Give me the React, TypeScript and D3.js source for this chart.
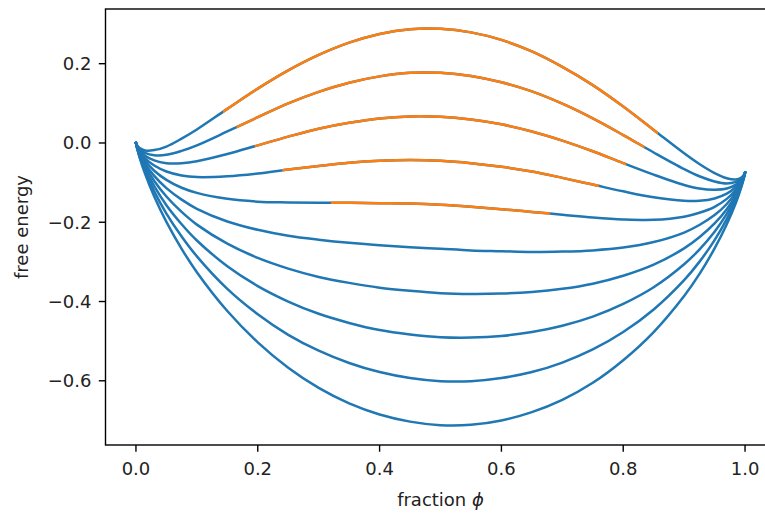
import React, { useEffect, useRef } from "react";
import * as d3 from "d3";

// fraction phi (x positions shared by every curve)
const phi = [
  0, 0.002, 0.006, 0.015, 0.03, 0.05, 0.075, 0.1, 0.15, 0.2, 0.25, 0.3, 0.35, 0.4, 0.45, 0.5,
  0.55, 0.6, 0.65, 0.7, 0.75, 0.8, 0.85, 0.9, 0.925, 0.95, 0.97, 0.985, 0.994, 0.998, 1,
];

// free energy, one array per curve, bottom (chi = 0) to top (chi = 4)
const energyChi0 = [
  0, -0.014, -0.037, -0.078, -0.135, -0.199, -0.267, -0.326, -0.424, -0.503, -0.567, -0.618, -0.657, -0.685, -0.703, -0.712,
  -0.711, -0.7, -0.679, -0.648, -0.605, -0.548, -0.477, -0.386, -0.331, -0.266, -0.205, -0.151, -0.111, -0.089, -0.075,
];
const energyChi1 = [
  0, -0.014, -0.034, -0.071, -0.122, -0.178, -0.236, -0.286, -0.368, -0.432, -0.484, -0.524, -0.555, -0.578, -0.593, -0.601,
  -0.601, -0.593, -0.578, -0.554, -0.521, -0.477, -0.42, -0.346, -0.3, -0.245, -0.192, -0.144, -0.108, -0.088, -0.075,
];
const energyChi2 = [
  0, -0.013, -0.031, -0.065, -0.109, -0.157, -0.205, -0.246, -0.311, -0.361, -0.4, -0.431, -0.454, -0.472, -0.483, -0.49,
  -0.491, -0.487, -0.477, -0.461, -0.438, -0.406, -0.364, -0.306, -0.269, -0.224, -0.179, -0.138, -0.105, -0.087, -0.075,
];
const energyChi3 = [
  0, -0.012, -0.029, -0.058, -0.096, -0.135, -0.174, -0.206, -0.254, -0.29, -0.317, -0.338, -0.353, -0.365, -0.373, -0.379,
  -0.381, -0.38, -0.376, -0.368, -0.355, -0.335, -0.307, -0.266, -0.238, -0.203, -0.167, -0.131, -0.103, -0.086, -0.075,
];
const energyChi4 = [
  0, -0.011, -0.026, -0.052, -0.083, -0.114, -0.143, -0.166, -0.198, -0.219, -0.234, -0.244, -0.252, -0.258, -0.263, -0.267,
  -0.271, -0.273, -0.275, -0.274, -0.271, -0.264, -0.25, -0.226, -0.207, -0.182, -0.154, -0.124, -0.1, -0.086, -0.075,
];
const energyChi5 = [
  0, -0.01, -0.023, -0.045, -0.07, -0.093, -0.113, -0.126, -0.141, -0.148, -0.15, -0.151, -0.151, -0.152, -0.153, -0.156,
  -0.161, -0.167, -0.174, -0.181, -0.188, -0.193, -0.194, -0.186, -0.176, -0.161, -0.141, -0.118, -0.098, -0.085, -0.075,
];
const energyChi6 = [
  0, -0.009, -0.021, -0.039, -0.057, -0.072, -0.082, -0.086, -0.084, -0.077, -0.067, -0.058, -0.05, -0.045, -0.043, -0.045,
  -0.051, -0.06, -0.072, -0.088, -0.105, -0.122, -0.137, -0.146, -0.146, -0.14, -0.128, -0.111, -0.095, -0.084, -0.075,
];
const energyChi7 = [
  0, -0.008, -0.018, -0.032, -0.044, -0.051, -0.051, -0.046, -0.028, -0.006, 0.016, 0.036, 0.051, 0.062, 0.067, 0.066,
  0.059, 0.047, 0.029, 0.006, -0.021, -0.051, -0.08, -0.106, -0.115, -0.118, -0.115, -0.105, -0.092, -0.083, -0.075,
];
const energyChi8 = [
  0, -0.007, -0.015, -0.025, -0.031, -0.03, -0.02, -0.006, 0.029, 0.065, 0.1, 0.129, 0.152, 0.168, 0.177, 0.177,
  0.169, 0.153, 0.13, 0.099, 0.062, 0.02, -0.024, -0.066, -0.084, -0.097, -0.102, -0.098, -0.09, -0.082, -0.075,
];
const energyChi9 = [
  0, -0.006, -0.013, -0.019, -0.018, -0.009, 0.011, 0.034, 0.086, 0.137, 0.183, 0.222, 0.253, 0.275, 0.287, 0.288,
  0.279, 0.26, 0.231, 0.192, 0.146, 0.092, 0.033, -0.026, -0.053, -0.076, -0.089, -0.092, -0.087, -0.081, -0.075,
];

const curves = [
  energyChi0, energyChi1, energyChi2, energyChi3, energyChi4,
  energyChi5, energyChi6, energyChi7, energyChi8, energyChi9,
];

// unstable (orange) part of the upper curves
const spinodalCurve = [5, 6, 7, 8, 9];
const spinodalLeft = [0.32, 0.24, 0.195, 0.165, 0.143];
const spinodalRight = [0.68, 0.76, 0.805, 0.835, 0.857];

const xTicks = [0, 0.2, 0.4, 0.6, 0.8, 1.0];
const xTickLabels = ["0.0", "0.2", "0.4", "0.6", "0.8", "1.0"];
const yTicks = [-0.6, -0.4, -0.2, 0, 0.2];
const yTickLabels = ["\u22120.6", "\u22120.4", "\u22120.2", "0.0", "0.2"];

const WIDTH = 765;
const HEIGHT = 518;
const FONT = "'DejaVu Sans', sans-serif";

const App = () => {
  const svgRef = useRef<SVGSVGElement>(null);

  useEffect(() => {
    const svg = d3.select(svgRef.current);
    svg.selectAll("*").remove();

    // axes box (right edge lies outside the picture, as in the original)
    const left = 105.5;
    const right = 775.5;
    const top = 9;
    const bottom = 445;

    const [xLo, xHi] = d3.extent(phi) as [number, number];
    const xPad = (xHi - xLo) * 0.05;
    const x = d3.scaleLinear().domain([xLo - xPad, xHi + xPad]).range([left, right]);

    const [yLo, yHi] = d3.extent(curves.flat()) as [number, number];
    const yPad = (yHi - yLo) * 0.05;
    const y = d3.scaleLinear().domain([yLo - yPad, yHi + yPad]).range([bottom, top]);

    const line = d3
      .line<number>()
      .x((_, i) => x(phi[i]))
      .y((d) => y(d))
      .curve(d3.curveCatmullRom.alpha(0.5));

    const defs = svg.append("defs");
    const plot = svg.append("g");

    curves.forEach((c, k) => {
      plot
        .append("path")
        .attr("d", line(c))
        .attr("fill", "none")
        .attr("stroke", "#1f77b4")
        .attr("stroke-width", 2.5)
        .attr("stroke-linejoin", "round")
        .attr("stroke-linecap", "square");

      const s = spinodalCurve.indexOf(k);
      if (s >= 0) {
        const x0 = x(spinodalLeft[s]);
        const x1 = x(spinodalRight[s]);
        defs
          .append("clipPath")
          .attr("id", `spin-${k}`)
          .append("rect")
          .attr("x", x0)
          .attr("y", 0)
          .attr("width", x1 - x0)
          .attr("height", HEIGHT);
        plot
          .append("path")
          .attr("d", line(c))
          .attr("fill", "none")
          .attr("stroke", "#ff7f0e")
          .attr("stroke-width", 2.5)
          .attr("stroke-linejoin", "round")
          .attr("clip-path", `url(#spin-${k})`);
      }
    });

    // frame
    svg
      .append("rect")
      .attr("x", left)
      .attr("y", top)
      .attr("width", right - left)
      .attr("height", bottom - top)
      .attr("fill", "none")
      .attr("stroke", "#000")
      .attr("stroke-width", 1.4);

    // x ticks
    const xt = svg.append("g");
    xTicks.forEach((t, i) => {
      xt.append("line")
        .attr("x1", x(t))
        .attr("x2", x(t))
        .attr("y1", bottom)
        .attr("y2", bottom + 6.7)
        .attr("stroke", "#000")
        .attr("stroke-width", 1.4);
      xt.append("text")
        .attr("x", x(t))
        .attr("y", bottom + 30)
        .attr("text-anchor", "middle")
        .attr("font-family", FONT)
        .attr("font-size", 18)
        .attr("fill", "#222")
        .text(xTickLabels[i]);
    });

    // y ticks
    const yt = svg.append("g");
    yTicks.forEach((t, i) => {
      yt.append("line")
        .attr("x1", left)
        .attr("x2", left - 6.7)
        .attr("y1", y(t))
        .attr("y2", y(t))
        .attr("stroke", "#000")
        .attr("stroke-width", 1.4);
      yt.append("text")
        .attr("x", left - 14)
        .attr("y", y(t) + 6.5)
        .attr("text-anchor", "end")
        .attr("font-family", FONT)
        .attr("font-size", 18)
        .attr("fill", "#222")
        .text(yTickLabels[i]);
    });

    // axis labels
    const xl = svg
      .append("text")
      .attr("x", (left + right) / 2)
      .attr("y", 506)
      .attr("text-anchor", "middle")
      .attr("font-family", FONT)
      .attr("font-size", 18)
      .attr("fill", "#222");
    xl.append("tspan").text("fraction ");
    xl.append("tspan").attr("font-style", "italic").text("\u03d5");

    svg
      .append("text")
      .attr("transform", `translate(28, ${(top + bottom) / 2}) rotate(-90)`)
      .attr("text-anchor", "middle")
      .attr("font-family", FONT)
      .attr("font-size", 18)
      .attr("fill", "#222")
      .text("free energy");
  }, []);

  return (
    <svg
      ref={svgRef}
      width={WIDTH}
      height={HEIGHT}
      style={{ position: "absolute", left: 0, top: 0, background: "#fff", display: "block" }}
    />
  );
};

export default App;
